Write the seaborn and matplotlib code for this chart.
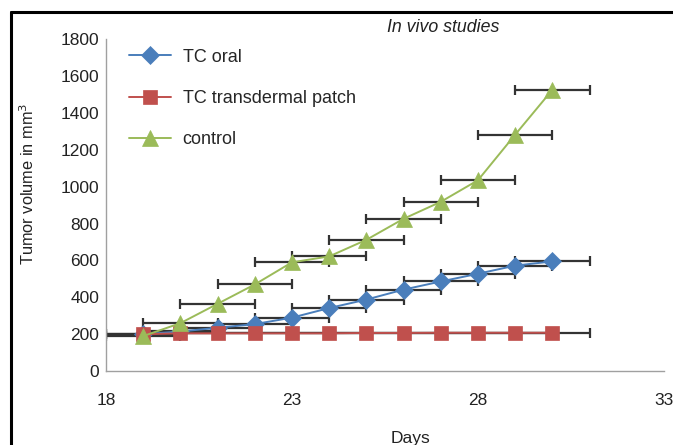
import matplotlib
matplotlib.use("Agg")
import matplotlib.pyplot as plt
from matplotlib.lines import Line2D
import seaborn as sns
import pandas as pd

days = [19, 20, 21, 22, 23, 24, 25, 26, 27, 28, 29, 30]
tc_oral = [200, 215, 235, 255, 290, 342, 388, 442, 486, 528, 572, 595]
tc_patch = [200, 205, 205, 205, 205, 205, 207, 207, 208, 208, 208, 208]
control = [190, 260, 365, 470, 590, 622, 712, 826, 918, 1035, 1282, 1525]
day_err = [1] * 12

series_names = ["TC oral", "TC transdermal patch", "control"]
series_values = [tc_oral, tc_patch, control]
colors = ["#4A7EBB", "#C0504D", "#9BBB59"]
markers = ["D", "s", "^"]
msizes = [9, 10.5, 11]

xticks = [18, 23, 28, 33]
yticks = list(range(0, 1801, 200))

sns.set_style("white")
plt.rcParams["font.family"] = ["Liberation Sans", "DejaVu Sans"]

fig = plt.figure(figsize=(6.73, 4.45), dpi=100)
ax = fig.add_axes([0.1575, 0.166, 0.829, 0.746])

for name, vals, c, m, ms in zip(series_names, series_values, colors, markers, msizes):
    df = pd.DataFrame({"Days": days, "Volume": vals})
    ax.errorbar(df["Days"], df["Volume"], xerr=day_err, fmt="none",
                ecolor="#333333", elinewidth=1.6, capsize=3.5, capthick=1.6,
                zorder=2)
    sns.lineplot(data=df, x="Days", y="Volume", ax=ax, color=c, marker=m,
                 markersize=ms, markeredgecolor=c, markeredgewidth=0.5,
                 linewidth=1.4, label=name, zorder=3)

ax.set_xlim(18, 33)
ax.set_ylim(0, 1800)
ax.set_xticks(xticks)
ax.set_yticks(yticks)
ax.tick_params(axis="both", length=0, labelsize=12.5, labelcolor="#222222")
ax.tick_params(axis="x", pad=16)
ax.tick_params(axis="y", pad=5)
for s in ["top", "right"]:
    ax.spines[s].set_visible(False)
for s in ["left", "bottom"]:
    ax.spines[s].set_color("#A0A0A0")
    ax.spines[s].set_linewidth(1.0)

ax.set_xlabel("Days", fontsize=12.5, color="#222222")
ax.xaxis.set_label_coords(0.545, -0.18)
ax.set_ylabel("Tumor volume in mm$^3$", fontsize=11.8, color="#222222")
ax.yaxis.set_label_coords(-0.124, 0.565)

ax.text(0.604, 1.035, "In vivo studies", transform=ax.transAxes,
        ha="center", va="center", fontsize=12.8, style="italic", color="#222222")

leg = ax.legend(loc="upper left", frameon=False, fontsize=13,
                handlelength=2.3, labelspacing=1.35, handletextpad=0.67,
                bbox_to_anchor=(0.022, 1.004), borderaxespad=0.2)

# figure frame (left and top edges)
fig.add_artist(Line2D([0.0165, 0.0165], [0.0, 0.973], transform=fig.transFigure,
                      color="black", linewidth=2.2))
fig.add_artist(Line2D([0.0165, 1.0], [0.973, 0.973], transform=fig.transFigure,
                      color="black", linewidth=2.2))

fig.savefig("out.png", dpi=100)
